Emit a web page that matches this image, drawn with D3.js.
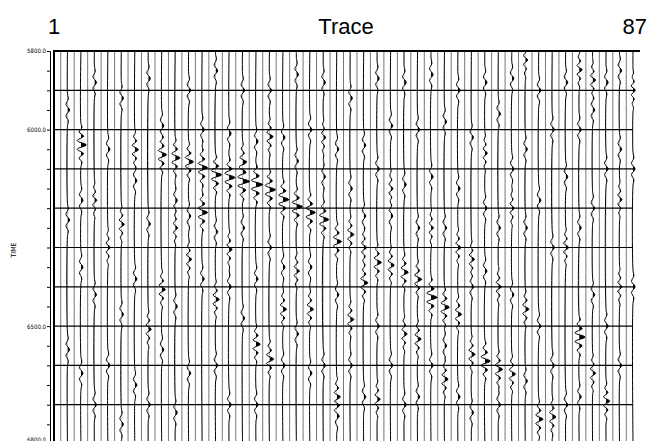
<!DOCTYPE html>
<html>
<head>
<meta charset="utf-8">
<script src="https://cdn.jsdelivr.net/npm/d3@7"></script>
<style>
  body { margin: 0; background: #fff; }
  svg { display: block; }
</style>
</head>
<body>
<svg id="chart" width="649" height="441"></svg>
<script>
// trace / time layout
const traceCount = 87;
const timeDomain = [5800, 6800];
const timeLabels = [5800, 6000, 6500, 6800];

// wavelet shapes: time offset (ms) and relative amplitude
const waveletOffsets = [-55, -44, -33, -22, -11, 0, 11, 22, 33, 44, 55];
const waveletAmps = [0, 0.2, -0.35, 0.5, -0.7, 1, -0.7, 0.5, -0.35, 0.2, 0];
const rippleOffsets = [-42, -28, -14, 0, 14, 28, 42];
const rippleAmps = [0, 0.4, -0.7, 1, -0.7, 0.4, 0];

// picks: [trace, time of main peak, amplitude]
const eventA = [
  [17, 6064, 0.8], [19, 6072, 0.8], [21, 6082, 0.8], [23, 6097, 0.9],
  [25, 6115, 1.0], [27, 6122, 1.0], [29, 6132, 1.1], [31, 6140, 1.1],
  [33, 6153, 1.0], [35, 6178, 1.0], [37, 6196, 1.0], [39, 6211, 0.9],
  [41, 6229, 0.9]
];
const eventB = [
  [43, 6285, 0.8], [45, 6267, 0.6], [47, 6300, 0.5], [49, 6338, 0.7],
  [51, 6345, 0.6], [53, 6363, 0.7], [55, 6381, 0.7], [57, 6427, 1.0],
  [59, 6452, 0.8], [61, 6470, 0.6], [63, 6572, 0.6], [65, 6589, 0.9],
  [67, 6610, 0.7], [69, 6622, 0.6]
];
const minorLobes = [
  [5, 6039, 0.9], [7, 6180, 0.4], [9, 6300, 0.4], [11, 6241, 0.5],
  [13, 6051, 0.6], [15, 6508, 0.5], [17, 6407, 0.6], [19, 6250, 0.4],
  [21, 6330, 0.5], [23, 6211, 0.9], [25, 6432, 0.6], [27, 6305, 0.5],
  [29, 6082, 0.6], [31, 6546, 0.7], [33, 6018, 0.6], [33, 6584, 0.7],
  [35, 6457, 0.6], [37, 6360, 0.5], [39, 6457, 0.6], [41, 6020, 0.4],
  [43, 6680, 0.6], [45, 6483, 0.6], [47, 6390, 0.7], [49, 6686, 0.5],
  [51, 6150, 0.4], [53, 6520, 0.5], [55, 6533, 0.6], [57, 6250, 0.4],
  [59, 6635, 0.6], [61, 6300, 0.5], [63, 6330, 0.5], [65, 6060, 0.4],
  [67, 6400, 0.5], [69, 6200, 0.4], [71, 6457, 0.6], [71, 5823, 0.4],
  [73, 6737, 0.7], [75, 6731, 0.6], [77, 6300, 0.5], [79, 6528, 1.0],
  [79, 5848, 0.5], [81, 5874, 0.5], [81, 6620, 0.5], [83, 6691, 0.6],
  [85, 6178, 0.4], [85, 6400, 0.4], [87, 5900, 0.4]
];
// faint background ripples: [trace, time]
const ripples = [
  [3, 5950], [3, 6230], [3, 6560], [5, 6180], [5, 6350], [5, 6620],
  [7, 5880], [7, 6420], [7, 6700], [9, 6050], [9, 6600], [11, 5920], [11, 6470], [11, 6750],
  [13, 6130], [13, 6380], [13, 6650], [15, 5870], [15, 6240], [15, 6700], [17, 5990], [17, 6560],
  [19, 6180], [19, 6450], [19, 6720], [21, 5900], [21, 6220], [21, 6620], [23, 6000], [23, 6380],
  [25, 5850], [25, 6260], [25, 6600], [27, 6010], [27, 6400], [27, 6700], [29, 5900], [29, 6250],
  [29, 6480], [31, 6030], [31, 6380], [31, 6700], [33, 5900], [33, 6300], [35, 6020], [35, 6350],
  [35, 6600], [37, 5860], [37, 6080], [37, 6520], [39, 6000], [39, 6350], [39, 6620], [41, 5880],
  [41, 6120], [41, 6600], [43, 6050], [43, 6420], [43, 6730], [45, 5920], [45, 6150], [45, 6600],
  [47, 6040], [47, 6220], [47, 6680], [49, 5870], [49, 6100], [49, 6500], [51, 5990], [51, 6220],
  [51, 6600], [53, 5880], [53, 6140], [53, 6700], [55, 6000], [55, 6250], [55, 6680], [57, 5860],
  [57, 6120], [57, 6600], [59, 5980], [59, 6250], [59, 6550], [61, 5900], [61, 6150], [61, 6680],
  [63, 6020], [63, 6400], [63, 6720], [65, 5880], [65, 6200], [65, 6360], [67, 5960], [67, 6250],
  [67, 6700], [69, 5870], [69, 6100], [69, 6420], [71, 6050], [71, 6250], [71, 6640], [73, 5900],
  [73, 6180], [73, 6500], [75, 6000], [75, 6300], [75, 6600], [77, 5880], [77, 6120], [77, 6700],
  [79, 6000], [79, 6250], [79, 6680], [81, 5950], [81, 6200], [81, 6420], [83, 5880], [83, 6100],
  [83, 6500], [85, 5850], [85, 6050], [85, 6600], [87, 6100], [87, 6400]
];
const rippleAmp = 0.35;

const svg = d3.select('#chart');
const width = +svg.attr('width');
const height = +svg.attr('height');
const margin = { top: 51, left: 54, right: 16 };

let x = d3.scaleLinear()
  .domain([1, traceCount])
  .range([margin.left, width - margin.right]);
let y = d3.scaleLinear()
  .domain(timeDomain)
  .range([margin.top, 444]);
const ampScale = 6; // px per unit amplitude
const spacing = x(2) - x(1);

// piecewise shapes through the library's own scales
const wavelet = d3.scaleLinear().domain(waveletOffsets).range(waveletAmps).clamp(true);
const ripple = d3.scaleLinear().domain(rippleOffsets).range(rippleAmps).clamp(true);

// titles
svg.append('g')
  .style('font-family', 'Liberation Sans, Arial, sans-serif')
  .style('font-size', '22px')
  .selectAll('text')
  .data([
    { t: '1', x: x(1), a: 'middle' },
    { t: 'Trace', x: 346, a: 'middle' },
    { t: String(traceCount), x: 647, a: 'end' }
  ])
  .join('text')
  .attr('x', d => d.x)
  .attr('y', 34)
  .attr('text-anchor', d => d.a)
  .text(d => d.t);

// gather picks per trace
let strong = d3.group(eventA.concat(eventB, minorLobes), d => d[0]);
let faint = d3.group(ripples, d => d[0]);

function tracePoints(tr) {
  let big = strong.get(tr) || [];
  let small = faint.get(tr) || [];
  let times = new Set([timeDomain[0], timeDomain[1]]);
  big.forEach(p => waveletOffsets.forEach(o => times.add(p[1] + o)));
  small.forEach(p => rippleOffsets.forEach(o => times.add(p[1] + o)));
  return Array.from(times)
    .filter(t => t >= timeDomain[0] && t <= timeDomain[1] + 20)
    .sort((a, b) => a - b)
    .map(t => [t,
      d3.sum(big, p => p[2] * wavelet(t - p[1])) +
      d3.sum(small, p => rippleAmp * ripple(t - p[1]))]);
}

let traces = d3.range(1, traceCount + 1);

// straight baselines for the dead (even) traces
svg.append('g')
  .attr('stroke', '#777')
  .attr('stroke-width', 1)
  .selectAll('line')
  .data(traces.filter(t => t % 2 === 0))
  .join('line')
  .attr('x1', d => x(d)).attr('x2', d => x(d))
  .attr('y1', y(timeDomain[0])).attr('y2', height);

let defs = svg.append('defs');
defs.selectAll('clipPath')
  .data(traces.filter(t => t % 2 === 1))
  .join('clipPath')
  .attr('id', d => 'pos' + d)
  .append('rect')
  .attr('x', d => x(d))
  .attr('y', 0)
  .attr('width', spacing * 2)
  .attr('height', height);

const live = svg.append('g');
traces.filter(t => t % 2 === 1).forEach(tr => {
  let pts = tracePoints(tr);
  let x0 = x(tr);
  live.append('path')
    .datum(pts)
    .attr('clip-path', `url(#pos${tr})`)
    .attr('fill', '#000')
    .attr('d', d3.area()
      .curve(d3.curveCatmullRom)
      .y(d => y(d[0]))
      .x0(x0)
      .x1(d => x0 + d[1] * ampScale));
  live.append('path')
    .datum(pts)
    .attr('fill', 'none')
    .attr('stroke', '#000')
    .attr('stroke-width', 1)
    .attr('d', d3.line()
      .curve(d3.curveCatmullRom)
      .y(d => y(d[0]))
      .x(d => x0 + d[1] * ampScale));
});

// horizontal timing lines
svg.append('g')
  .attr('stroke', '#000')
  .attr('stroke-width', 1.2)
  .selectAll('line')
  .data(d3.range(timeDomain[0] + 100, timeDomain[1], 100))
  .join('line')
  .attr('x1', x(1)).attr('x2', x(traceCount))
  .attr('y1', d => y(d)).attr('y2', d => y(d));

svg.append('line')
  .attr('x1', x(1) - 1).attr('x2', 640)
  .attr('y1', y(timeDomain[0])).attr('y2', y(timeDomain[0]))
  .attr('stroke', '#000').attr('stroke-width', 2);
svg.append('line')
  .attr('x1', x(1)).attr('x2', x(1))
  .attr('y1', y(timeDomain[0])).attr('y2', height)
  .attr('stroke', '#000').attr('stroke-width', 2);

// time axis
const yAxis = d3.axisLeft(y)
  .tickValues(d3.range(timeDomain[0], timeDomain[1] + 1, 50))
  .tickSize(3)
  .tickFormat(d => timeLabels.includes(d) ? d.toFixed(1) : '');
const gy = svg.append('g')
  .attr('transform', 'translate(50,0)')
  .call(yAxis);
gy.select('.domain').attr('stroke', '#000');
gy.selectAll('text')
  .style('font-family', 'DejaVu Sans Condensed, DejaVu Sans, sans-serif')
  .style('font-size', '6px')
  .attr('x', -4)
  .attr('dy', d => d === timeDomain[1] ? '-0.5em' : '0.32em');

svg.append('text')
  .attr('transform', 'translate(16,250) rotate(-90)')
  .attr('text-anchor', 'middle')
  .style('font-family', 'DejaVu Sans Condensed, DejaVu Sans, sans-serif')
  .style('font-size', '7px')
  .text('TIME');
</script>
</body>
</html>
